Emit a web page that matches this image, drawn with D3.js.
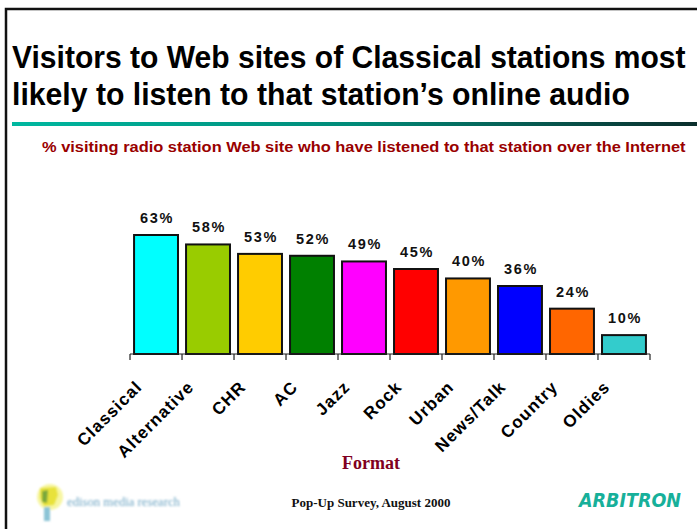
<!DOCTYPE html>
<html>
<head>
<meta charset="utf-8">
<script src="https://cdn.jsdelivr.net/npm/d3@7"></script>
<style>
  html, body { margin: 0; padding: 0; background: #fff; }
  svg { display: block; }
</style>
</head>
<body>
<svg id="chart" width="697" height="529"></svg>
<script>
// Station formats, in chart order
const formats = ["Classical", "Alternative", "CHR", "AC", "Jazz", "Rock", "Urban", "News/Talk", "Country", "Oldies"];
// % of station Web site visitors who have listened to that station online
const listened = [63, 58, 53, 52, 49, 45, 40, 36, 24, 10];
// Bar fill per format
const barColors = ["#00ffff", "#99cc00", "#ffcc00", "#008000", "#ff00ff", "#ff0000", "#ff9900", "#0000ff", "#ff6600", "#33cccc"];

const titleLines = [
  "Visitors to Web sites of Classical stations most",
  "likely to listen to that station\u2019s online audio"
];
const subtitle = "% visiting radio station Web site who have listened to that station over the Internet";
const axisTitle = "Format";
const sourceNote = "Pop-Up Survey, August 2000";

const svg = d3.select("#chart");

// Scale a text horizontally so that it spans the given width
function fitWidth(sel, x0, y0, width) {
  sel.each(function () {
    const w = this.getComputedTextLength();
    const s = width / w;
    d3.select(this).attr("transform", `translate(${x0},${y0}) scale(${s},1)`);
  });
}

// Slide frame (left and top rules)
svg.append("path")
  .attr("d", "M6,529 L6,9 L697,9")
  .attr("fill", "none")
  .attr("stroke", "#111")
  .attr("stroke-width", 2.5);

// Title, set in a condensed bold face
const titleFits = [674, 618];
svg.append("g").selectAll("text")
  .data(titleLines)
  .join("text")
  .attr("font-family", "Liberation Sans, Arial, sans-serif")
  .attr("font-weight", "bold")
  .attr("font-size", 31)
  .attr("fill", "#000")
  .text(d => d)
  .each(function (d, i) { fitWidth(d3.select(this), 12, 68 + i * 37, titleFits[i]); });

// Gradient rule under the title
const defs = svg.append("defs");
const grad = defs.append("linearGradient").attr("id", "rule").attr("x1", "0").attr("x2", "1");
grad.append("stop").attr("offset", "0").attr("stop-color", "#00b8a0");
grad.append("stop").attr("offset", "0.5").attr("stop-color", "#008a78");
grad.append("stop").attr("offset", "1").attr("stop-color", "#0b2e2c");
svg.append("rect")
  .attr("x", 12).attr("y", 122)
  .attr("width", 685).attr("height", 4)
  .attr("fill", "url(#rule)");

// Subtitle
svg.append("text")
  .attr("font-family", "Liberation Sans, Arial, sans-serif")
  .attr("font-weight", "bold")
  .attr("font-size", 14)
  .attr("fill", "#990000")
  .text(subtitle)
  .call(fitWidth, 42, 152, 644);

// Scales
const x = d3.scaleBand().domain(formats).range([130, 650]).paddingInner(0.155).paddingOuter(0.078);
const y = d3.scaleLinear().domain([0, 63]).range([354, 235]);

const data = formats.map((f, i) => ({ format: f, value: listened[i], color: barColors[i] }));

// Bars
svg.append("g").selectAll("rect")
  .data(data)
  .join("rect")
  .attr("x", d => x(d.format))
  .attr("y", d => y(d.value))
  .attr("width", x.bandwidth())
  .attr("height", d => y(0) - y(d.value))
  .attr("fill", d => d.color)
  .attr("stroke", "#111")
  .attr("stroke-width", 2);

// Value labels
svg.append("g").selectAll("text")
  .data(data)
  .join("text")
  .attr("x", d => x(d.format) + x.bandwidth() / 2 + 1)
  .attr("y", d => y(d.value) - 12)
  .attr("text-anchor", "middle")
  .attr("font-family", "Liberation Sans, Arial, sans-serif")
  .attr("font-weight", "bold")
  .attr("font-size", 14.5)
  .attr("letter-spacing", 1.6)
  .attr("fill", "#111")
  .text(d => d.value + "%");

// Category axis: baseline with ticks on band boundaries
const axisG = svg.append("g").attr("transform", `translate(0,${y(0)})`);
axisG.append("line")
  .attr("x1", x.range()[0]).attr("x2", x.range()[1])
  .attr("stroke", "#222").attr("stroke-width", 1.2);
const boundaries = formats.map(f => x(f) - x.step() * x.paddingInner() / 2).concat([x.range()[1]]);
boundaries[0] = x.range()[0];
axisG.selectAll("line.tick")
  .data(boundaries)
  .join("line")
  .attr("class", "tick")
  .attr("x1", d => d).attr("x2", d => d)
  .attr("y1", 0).attr("y2", 6)
  .attr("stroke", "#222").attr("stroke-width", 1.2);

// Rotated category labels
svg.append("g").selectAll("text")
  .data(formats)
  .join("text")
  .attr("transform", d => `translate(${x(d) + x.bandwidth() / 2 - 13},${388}) rotate(-45)`)
  .attr("text-anchor", "end")
  .attr("font-family", "Liberation Sans, Arial, sans-serif")
  .attr("font-weight", "bold")
  .attr("font-size", 17)
  .attr("letter-spacing", 1.1)
  .attr("fill", "#000")
  .text(d => d);

// Axis title
svg.append("text")
  .attr("x", 371).attr("y", 469)
  .attr("text-anchor", "middle")
  .attr("font-family", "Liberation Serif, Times New Roman, serif")
  .attr("font-weight", "bold")
  .attr("font-size", 18)
  .attr("fill", "#800020")
  .text(axisTitle);

// Source note
svg.append("text")
  .attr("x", 371).attr("y", 507)
  .attr("text-anchor", "middle")
  .attr("font-family", "Liberation Serif, Times New Roman, serif")
  .attr("font-weight", "bold")
  .attr("font-size", 13)
  .attr("fill", "#111")
  .text(sourceNote);

// Edison Media Research mark (soft, low-resolution logo)
const blur = defs.append("filter").attr("id", "soft").attr("x", "-20%").attr("y", "-20%").attr("width", "140%").attr("height", "140%");
blur.append("feGaussianBlur").attr("stdDeviation", 0.9);
const logo = svg.append("g").attr("filter", "url(#soft)");
logo.append("circle").attr("cx", 50).attr("cy", 497).attr("r", 13).attr("fill", "#f4f27a").attr("opacity", 0.7);
logo.append("path")
  .attr("d", "M40,488 L56,487 L58,495 L54,505 L44,506 L40,498 Z")
  .attr("fill", "#e8e23a");
logo.append("path")
  .attr("d", "M42,491 L48,490 L47,503 L42,502 Z")
  .attr("fill", "#7aa83a");
logo.append("rect").attr("x", 44).attr("y", 507).attr("width", 6).attr("height", 14).attr("fill", "#8cc4d6");
logo.append("text")
  .attr("font-family", "Liberation Serif, serif")
  .attr("font-size", 12)
  .attr("fill", "#6fa6c4")
  .text("edison media research")
  .call(fitWidth, 67, 506, 113);

// Arbitron wordmark
svg.append("text")
  .attr("x", 579).attr("y", 507)
  .attr("textLength", 102)
  .attr("lengthAdjust", "spacingAndGlyphs")
  .attr("font-family", "DejaVu Sans, sans-serif")
  .attr("font-weight", "bold")
  .attr("font-style", "italic")
  .attr("font-size", 20)
  .attr("fill", "#17b09a")
  .text("ARBITRON");
</script>
</body>
</html>
